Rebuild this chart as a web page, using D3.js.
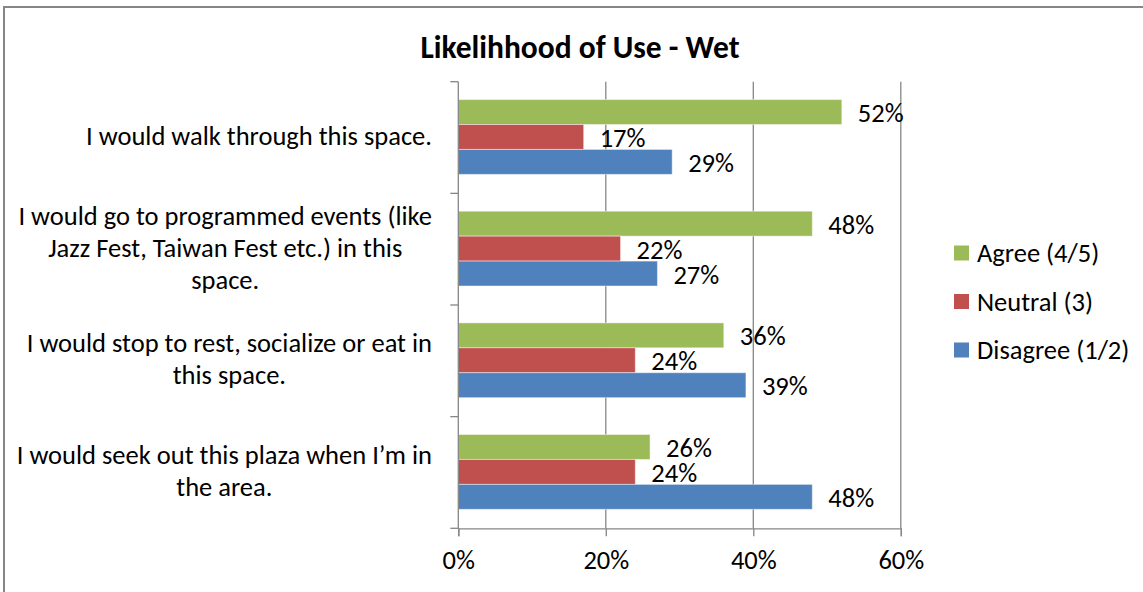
<!DOCTYPE html>
<html>
<head>
<meta charset="utf-8">
<script src="https://cdn.jsdelivr.net/npm/d3@7"></script>
<style>
  html, body { margin: 0; padding: 0; background: #fff; }
  svg { display: block; }
  text { font-family: Carlito, Calibri, Lato, "Open Sans", sans-serif; fill: #000; }
</style>
</head>
<body>
<svg id="chart" width="1143" height="592"></svg>
<script>
// ---- data ----
const title = "Likelihhood of Use - Wet";
const categories = [
  "I would walk through this space.",
  "I would go to programmed events (like\nJazz Fest, Taiwan Fest etc.) in this\nspace.",
  "I would stop to rest, socialize or eat in\nthis space.",
  "I would seek out this plaza when I\u2019m in\nthe area."
];
const seriesNames = ["Agree (4/5)", "Neutral (3)", "Disagree (1/2)"];
const agree    = [52, 48, 36, 26];
const neutral  = [17, 22, 24, 24];
const disagree = [29, 27, 39, 48];
const xTicks = [0, 20, 40, 60];
const colors = ["#9BBB59", "#C0504D", "#4F81BD"];

const seriesValues = [agree, neutral, disagree];

const svg = d3.select("#chart");
const W = 1143, H = 592;
const plot = { left: 458.3, right: 900.8, top: 81.7, bottom: 528.3 };
const FS = 26.5;

// frame
svg.append("rect").attr("x", 4).attr("y", 7).attr("width", W + 10).attr("height", H + 10)
  .attr("fill", "#fff").attr("stroke", "#868686").attr("stroke-width", 2);

// title
svg.append("text").attr("x", 580).attr("y", 58)
  .attr("text-anchor", "middle").attr("font-weight", "bold").attr("font-size", 31.5)
  .text(title);

const x = d3.scaleLinear().domain([0, 60]).range([plot.left, plot.right]);
const y0 = d3.scaleBand().domain(categories).range([plot.top, plot.bottom]).padding(0);
const bw = y0.bandwidth();
const y1 = d3.scaleBand().domain(seriesNames).range([bw * 0.16, bw * 0.83]).padding(0);

// gridlines
const gridG = svg.append("g");
gridG.selectAll("line").data(xTicks.filter(d => d > 0)).join("line")
  .attr("x1", d => x(d)).attr("x2", d => x(d))
  .attr("y1", plot.top).attr("y2", plot.bottom)
  .attr("stroke", "#868686").attr("stroke-width", 1.3);

// bars
const groups = svg.append("g").selectAll("g").data(categories).join("g")
  .attr("transform", c => `translate(0,${y0(c)})`);

groups.each(function(c, ci) {
  const g = d3.select(this);
  seriesNames.forEach((s, si) => {
    const v = seriesValues[si][ci];
    g.append("rect")
      .attr("x", x(0)).attr("y", y1(s))
      .attr("width", x(v) - x(0)).attr("height", y1.bandwidth())
      .attr("fill", colors[si])
      .attr("stroke", "rgba(255,255,255,0.45)").attr("stroke-width", 1);
    g.append("text")
      .attr("x", x(v) + 16).attr("y", y1(s) + y1.bandwidth() / 2 + 1)
      .attr("dominant-baseline", "central").attr("font-size", FS)
      .text(v + "%");
  });
});

// bottom axis
const xAxis = d3.axisBottom(x).tickValues(xTicks).tickFormat(d => d + "%").tickSize(8).tickPadding(14);
const xg = svg.append("g").attr("transform", `translate(0,${plot.bottom})`).call(xAxis);
xg.select(".domain").attr("stroke", "#868686").attr("stroke-width", 1.3);
xg.selectAll(".tick line").attr("stroke", "#868686").attr("stroke-width", 1.3);
xg.selectAll(".tick text").attr("font-size", FS).attr("font-family", null).attr("fill", "#000");

// left axis: line plus ticks at category boundaries
const boundaries = categories.map(c => y0(c)).concat([plot.bottom]);
svg.append("line").attr("x1", plot.left).attr("x2", plot.left)
  .attr("y1", plot.top).attr("y2", plot.bottom)
  .attr("stroke", "#868686").attr("stroke-width", 1.3);
svg.append("g").selectAll("line").data(boundaries).join("line")
  .attr("x1", plot.left - 8).attr("x2", plot.left)
  .attr("y1", d => d).attr("y2", d => d)
  .attr("stroke", "#868686").attr("stroke-width", 1.3);

// category labels: block right-aligned at 432, lines centered within block
const lineH = 32;
categories.forEach(c => {
  const lines = c.split("\n");
  const cy = y0(c) + bw / 2 - 1.5;
  const t = svg.append("text").attr("font-size", FS).attr("text-anchor", "middle");
  const spans = lines.map((ln, i) => t.append("tspan")
    .attr("x", 0)
    .attr("y", cy + (i - (lines.length - 1) / 2) * lineH)
    .attr("dominant-baseline", "central")
    .text(ln));
  const maxW = d3.max(spans, s => s.node().getComputedTextLength());
  const cx = 432 - maxW / 2;
  spans.forEach(s => s.attr("x", cx));
});

// legend
const leg = svg.append("g");
seriesNames.forEach((s, i) => {
  const ly = 253 + i * 48.5;
  leg.append("rect").attr("x", 954).attr("y", ly - 7.5).attr("width", 15).attr("height", 15)
    .attr("fill", colors[i]);
  leg.append("text").attr("x", 977).attr("y", ly).attr("dominant-baseline", "central")
    .attr("font-size", FS).text(s);
});
</script>
</body>
</html>
